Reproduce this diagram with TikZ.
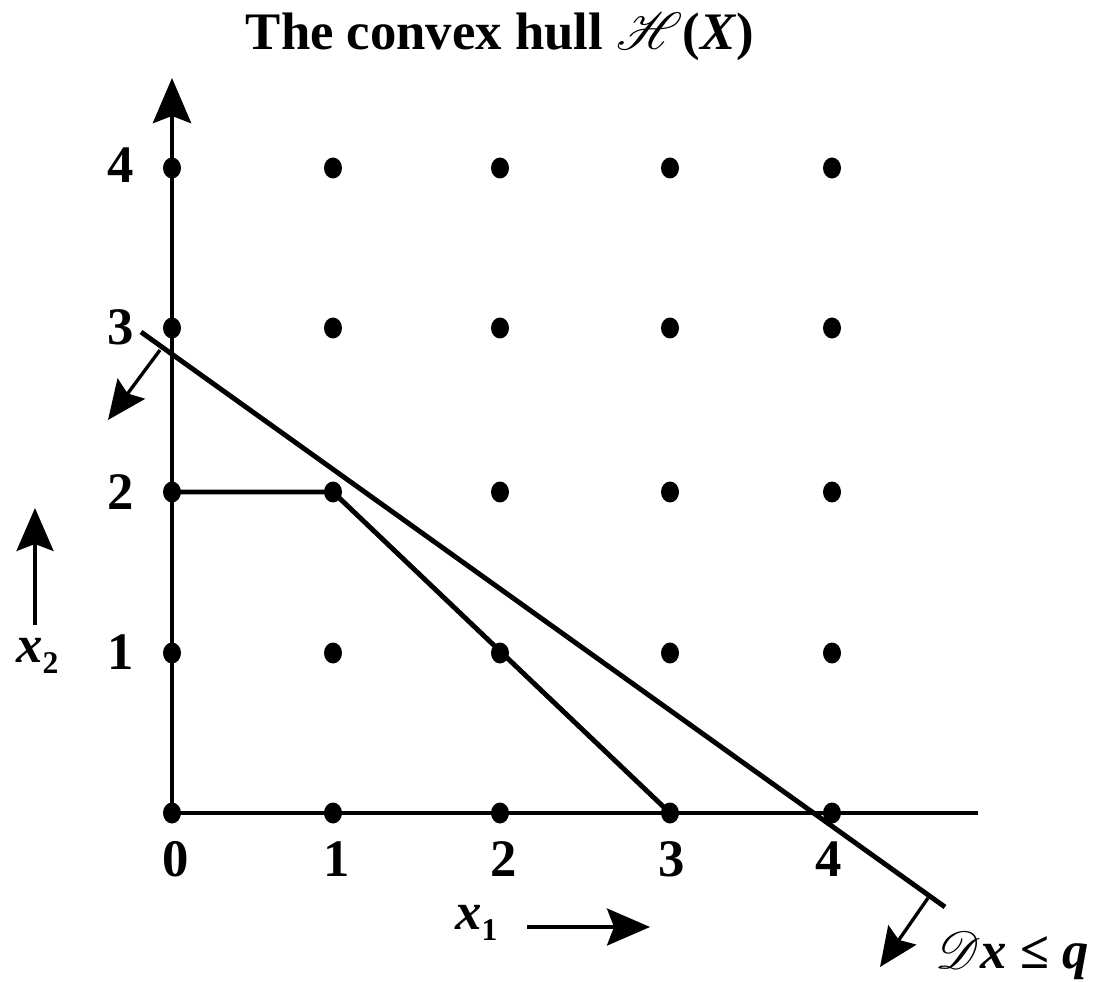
\documentclass[tikz,border=0pt]{standalone}
\usepackage{fontspec}
\setmainfont{Liberation Serif}
\usepackage{graphicx}
\usepackage{mathrsfs}
\usetikzlibrary{arrows.meta,shapes.geometric}
\newcommand{\scrH}{{\fontsize{24.88}{26}\selectfont\scalebox{1.2}{$\mathscr{H}$}}}
\newcommand{\scrD}{{\fontsize{24.88}{26}\selectfont\scalebox{1.2}{$\mathscr{D}$}}}
\newcommand{\subsc}[1]{\raisebox{-0.22em}{\fontsize{18}{18}\selectfont #1}}
\begin{document}
\begin{tikzpicture}[x=0.02cm,y=-0.02cm,
  thickline/.style={line width=2.8pt},
  dot/.style={ellipse,fill=black,inner sep=0pt,minimum width=0.36cm,minimum height=0.42cm},
  lbl/.style={font=\fontsize{30}{32}\selectfont\bfseries,inner sep=0pt},
  bigarrow/.style={-{Stealth[length=0.9cm,width=0.76cm,inset=0.14cm]}},
  smallarrow/.style={line width=1.9pt,-{Stealth[length=0.78cm,width=0.68cm,inset=0.12cm]}},
  axisarrow/.style={line width=1.9pt,-{Stealth[length=0.86cm,width=0.74cm,inset=0.14cm]}}]
\useasboundingbox (0,0) rectangle (1094,982);
% grid points
\foreach \i/\x in {0/172,1/333,2/500,3/670,4/832}{
  \foreach \j/\y in {0/813,1/653,2/492,3/328,4/168}{
    \coordinate (p\i\j) at (\x,\y);
  }
}
% axes
\coordinate (ytip) at (172,78);
\coordinate (xend) at (978,813);
\draw[thickline,bigarrow] (p00) -- (ytip);
\draw[thickline] (p00) -- (xend);
% hull boundary
\draw[thickline] (p02) -- (p12) -- (p30);
% constraint line
\coordinate (ca) at (141,332);
\coordinate (cb) at (945,907);
\draw[thickline] (ca) -- (cb);
\coordinate (a1s) at (160,350);
\coordinate (a1e) at (108,420);
\coordinate (a2s) at (928,898);
\coordinate (a2e) at (880,967);
\draw[smallarrow] (a1s) -- (a1e);
\draw[smallarrow] (a2s) -- (a2e);
% dots
\foreach \i in {0,...,4}{
  \foreach \j in {0,...,4}{
    \node[dot] (d\i\j) at (p\i\j) {};
  }
}
% title
\node[lbl,anchor=base] (title) at (500,50) {The convex hull \scrH(\textit{X})};
% y labels
\node[lbl,anchor=base] (y4) at (121,183) {4};
\node[lbl,anchor=base] (y3) at (121,345) {3};
\node[lbl,anchor=base] (y2) at (121,509) {2};
\node[lbl,anchor=base] (y1) at (121,669) {1};
% x labels
\node[lbl,anchor=base] (x0) at (176,876) {0};
\node[lbl,anchor=base] (x1) at (337,876) {1};
\node[lbl,anchor=base] (x2) at (504,876) {2};
\node[lbl,anchor=base] (x3) at (672,876) {3};
\node[lbl,anchor=base] (x4) at (829,876) {4};
% axis names
\node[lbl,anchor=base west] (xtwo) at (16,662) {\textit{x}\subsc{2}};
\coordinate (x2s) at (35,625);
\coordinate (x2e) at (35,508);
\draw[axisarrow] (x2s) -- (x2e);
\node[lbl,anchor=base west] (xone) at (455,929) {\textit{x}\subsc{1}};
\coordinate (x1s) at (527,927);
\coordinate (x1e) at (650,927);
\draw[axisarrow] (x1s) -- (x1e);
% constraint label
\node[lbl,anchor=base west] (dq) at (935,968) {\scrD\textit{x} ≤ \textit{q}};
\end{tikzpicture}
\end{document}
